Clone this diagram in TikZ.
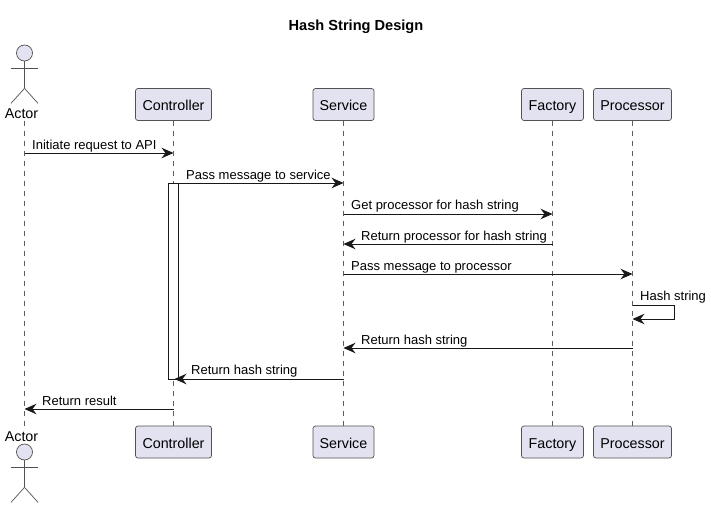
\documentclass[tikz,border=0pt]{standalone}
\usepackage{fontspec}
\setmainfont{Liberation Sans}
\usetikzlibrary{arrows.meta, positioning, calc}
\definecolor{partfill}{HTML}{E2E2F0}
\definecolor{partline}{HTML}{181818}
\tikzstyle{participant} = [rectangle, rounded corners=2.5pt, minimum height=32pt, inner sep=0pt, text height=13pt, text depth=1pt, text centered, draw=partline!75, line width=0.7pt, fill=partfill, font=\fontsize{14.3}{16}\selectfont]
\tikzstyle{actorhead} = [circle, minimum size=16pt, inner sep=0pt, draw=partline!75, line width=0.7pt, fill=partfill]
\tikzstyle{limb} = [draw=partline!75, line width=0.7pt]
\tikzstyle{lifeline} = [draw=partline!70, line width=0.6pt, dash pattern=on 5pt off 5pt]
\tikzstyle{arrow} = [line width=0.9pt, draw=partline, -{Stealth[length=12pt, width=10.5pt, inset=4pt]}]
\tikzstyle{msg} = [anchor=base west, inner sep=0pt, font=\fontsize{13}{15}\selectfont]
\tikzstyle{actorname} = [inner sep=0pt, font=\fontsize{14.3}{16}\selectfont]

\begin{document}
\begin{tikzpicture}[x=1pt, y=-1pt]
\useasboundingbox (0,0) rectangle (711,508);

% Title
\node (title) at (356,26.5) [font=\bfseries\fontsize{14.6}{16}\selectfont] {Hash String Design};

% Top row
\node (actorhead1) [actorhead] at (24.5,53) {};
\node (actor1) [actorname] at (21.5,113.5) {Actor};
\node (ctrl1) [participant, minimum width=76pt] at (173.5,104.5) {Controller};
\node (svc1) [participant, minimum width=61pt] at (343.5,104.5) {Service};
\node (fact1) [participant, minimum width=62pt] at (552.5,104.5) {Factory};
\node (proc1) [participant, minimum width=78pt] at (632.5,104.5) {Processor};

% Bottom row
\node (actor2) [actorname] at (21.5,436.5) {Actor};
\node (actorhead2) [actorhead] at (24.5,452) {};
\node (ctrl2) [participant, minimum width=76pt] at (173.5,442) {Controller};
\node (svc2) [participant, minimum width=61pt] at (343.5,442) {Service};
\node (fact2) [participant, minimum width=62pt] at (552.5,442) {Factory};
\node (proc2) [participant, minimum width=78pt] at (632.5,442) {Processor};

% Stick figures
\foreach \a in {1,2} {
  \draw [limb] (actorhead\a.south) -- ++(0,27) coordinate (hip\a);
  \draw [limb] ($(actorhead\a.south)+(-13.5,7)$) -- ++(27,0);
  \draw [limb] (hip\a) -- ++(-13.5,15);
  \draw [limb] (hip\a) -- ++(13.5,15);
}

% Lifelines
\coordinate (top) at (0,120.5);
\coordinate (bot) at (0,426);
\draw [lifeline] (actorhead1 |- top) -- (actorhead1 |- bot);
\foreach \p in {ctrl,svc,fact,proc} {
  \draw [lifeline] (\p1.south) -- (\p2.north);
}

% Activation bar
\node (bar) [rectangle, draw=partline, line width=0.8pt, fill=white, minimum width=10pt, minimum height=196pt, inner sep=0pt] at (173.5,281) {};

% Messages
\coordinate (m1) at (0,153);
\coordinate (m2) at (0,183);
\coordinate (m3) at (0,214);
\coordinate (m4) at (0,244);
\coordinate (m5) at (0,274);
\coordinate (m6) at (0,305);
\coordinate (m7) at (0,319);
\coordinate (m8) at (0,348);
\coordinate (m9) at (0,379);
\coordinate (m10) at (0,409);
\coordinate (selfx) at (674.5,0);
\coordinate (barin) at (174.5,0);

\draw [arrow] (actorhead1 |- m1) -- (ctrl1 |- m1);
\draw [arrow] (bar.east |- m2) -- (svc1 |- m2);
\draw [arrow] (svc1 |- m3) -- (fact1 |- m3);
\draw [arrow] (fact1 |- m4) -- (svc1 |- m4);
\draw [arrow] (svc1 |- m5) -- (proc1 |- m5);
\draw [arrow] (proc1 |- m6) -- (selfx |- m6) -- (selfx |- m7) -- (proc1 |- m7);
\draw [arrow] (proc1 |- m8) -- (svc1 |- m8);
\draw [arrow] (svc1 |- m9) -- (barin |- m9);
\draw [arrow] (ctrl1 |- m10) -- (actorhead1 |- m10);

% Message labels
\node (l1) [msg] at (32,149) {Initiate request to API};
\node (l2) [msg] at (186,179) {Pass message to service};
\node (l3) [msg] at (351,209) {Get processor for hash string};
\node (l4) [msg] at (361,240) {Return processor for hash string};
\node (l5) [msg] at (351,270) {Pass message to processor};
\node (l6) [msg] at (640,300) {Hash string};
\node (l8) [msg] at (361,344) {Return hash string};
\node (l9) [msg] at (191,374) {Return hash string};
\node (l10) [msg] at (42,405) {Return result};

\end{tikzpicture}
\end{document}
